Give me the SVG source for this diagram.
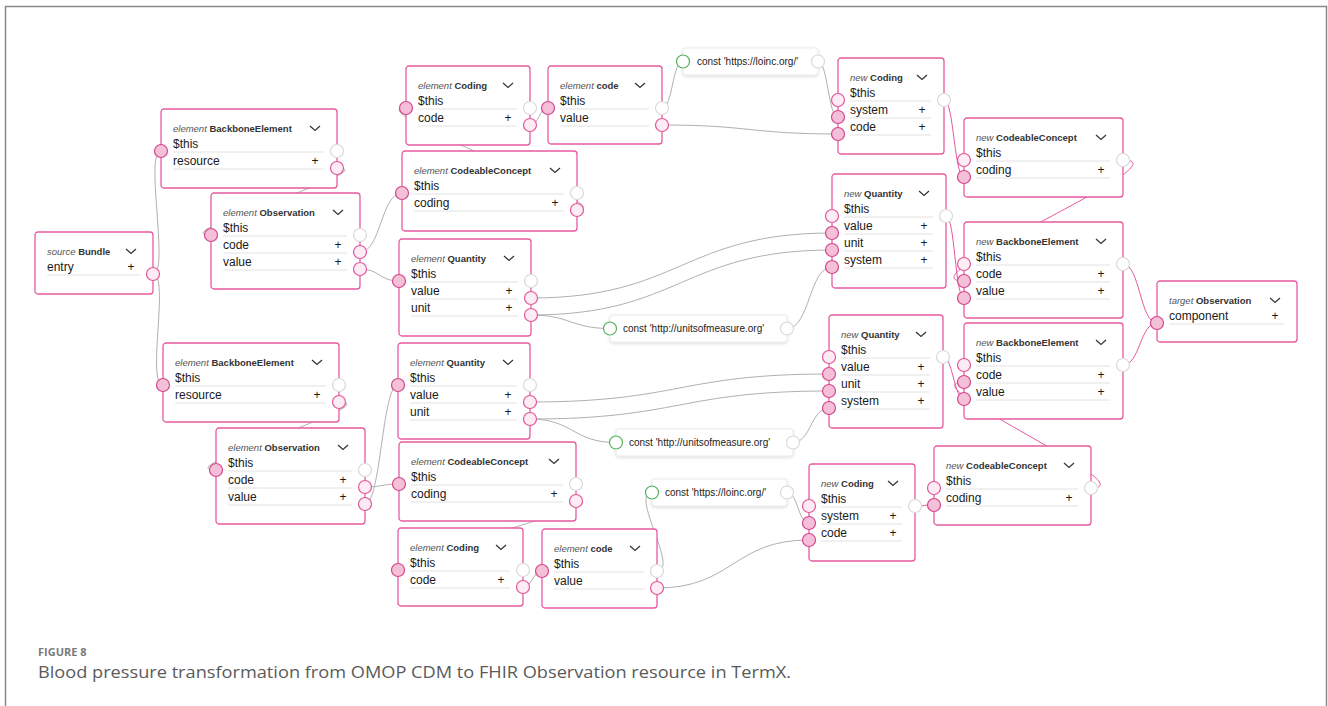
<svg xmlns="http://www.w3.org/2000/svg" width="1328" height="706" viewBox="0 0 1328 706">
  <defs>
    <filter id="sh" x="-10%" y="-40%" width="120%" height="190%">
      <feDropShadow dx="0" dy="1" stdDeviation="1.8" flood-color="#000" flood-opacity="0.16"/>
    </filter>
    <style>
      .box{fill:#fff;stroke:#e75a9f;stroke-width:1.3}
      .cbox{fill:#fff;stroke:#ebebeb;stroke-width:1}
      .hd{font-family:"Liberation Sans",Arial,sans-serif;font-size:9.5px}
      .k{font-style:italic;fill:#555}
      .t{font-weight:bold;fill:#333}
      .row{font-family:"Liberation Sans",Arial,sans-serif;font-size:12px;fill:#1a1a1a}
      .pl{font-family:"Liberation Sans",Arial,sans-serif;font-size:12px;fill:#1a1a1a;text-anchor:middle}
      .ct{font-family:"Liberation Sans",Arial,sans-serif;font-size:10px;fill:#222}
      .sep{stroke:#e2e2e2;stroke-width:1}
      .chev{fill:none;stroke:#333;stroke-width:1.2}
      .pin{fill:#f4c0d7;stroke:#d4468e;stroke-width:1.2}
      .plt{fill:#fdecf3;stroke:#e2579b;stroke-width:1.2}
      .pwh{fill:#fff;stroke:#d9d9d9;stroke-width:1.2}
      .pgr{fill:#fff;stroke:#53b25a;stroke-width:1.2}
      .w{fill:none;stroke:#b0b0b0;stroke-width:1}
      .wp{fill:none;stroke:#e8579d;stroke-width:1}
      .cap1{font-family:"Open Sans","Liberation Sans",sans-serif;font-size:11px;font-weight:bold;fill:#7a7a7a}
      .cap2{font-family:"Open Sans","Liberation Sans",sans-serif;font-size:16px;fill:#5a5a5a}
    </style>
  </defs>

  <rect width="1328" height="706" fill="#fff"/>
  <!-- figure frame, open at the bottom -->
  <path d="M5.5,706 V6.5 H1326.5 V706" fill="none" stroke="#8a8a8a" stroke-width="1.5"/>

  <!-- connectors -->
  <g id="connectors">
    <path class="w" d="M153,274 C170,274 144,151 161,151"/>
    <path class="w" d="M153,274 C170,274 146,385 163,385"/>
    <path class="w" d="M337,168 C390,168 158,235 211,235"/>
    <path class="w" d="M339,402 C392,402 163,470 216,470"/>
    <path class="w" d="M360,252 C381,252 381,193 402,193"/>
    <path class="w" d="M365,487 C382,487 382,484 399,484"/>
    <path class="w" d="M360,269 C380,269 379,281 399,281"/>
    <path class="w" d="M365,504 C381,504 382,385 398,385"/>
    <path class="w" d="M577,210 C630,210 353,108 406,108"/>
    <path class="w" d="M576,501 C629,501 345,570 398,570"/>
    <path class="w" d="M530,125 C539,125 539,108 548,108"/>
    <path class="w" d="M523,587 C532,587 533,571 542,571"/>
    <path class="w" d="M662,125 C750,125 750,134 838,134"/>
    <path class="w" d="M657,588 C733,588 733,540 809,540"/>
    <path class="w" d="M662,108 C673,108 672,61.5 683,61.5"/>
    <path class="w" d="M657,571 C680,571 629,492.5 652,492.5"/>
    <path class="w" d="M818,61.5 C828,61.5 828,117 838,117"/>
    <path class="w" d="M787,492.5 C798,492.5 798,523 809,523"/>
    <path class="w" d="M531,298 C680,298 683,233 832,233"/>
    <path class="w" d="M531,315 C680,315 683,250 832,250"/>
    <path class="w" d="M531,315 C570,315 571,328.5 610,328.5"/>
    <path class="w" d="M787,328.5 C810,328.5 809,267 832,267"/>
    <path class="w" d="M530,402 C680,402 679,374 829,374"/>
    <path class="w" d="M530,419 C680,419 679,391 829,391"/>
    <path class="w" d="M530,419 C573,419 573,442.5 616,442.5"/>
    <path class="w" d="M793,442.5 C811,442.5 811,408 829,408"/>
    <path class="wp" d="M944,100 C954,100 954,177 964,177"/>
    <path class="wp" d="M1123,160 C1190,160 897,281 964,281"/>
    <path class="wp" d="M946,216 C955,216 955,298 964,298"/>
    <path class="wp" d="M1123,264 C1140,264 1140,323 1157,323"/>
    <path class="wp" d="M1123,365 C1140,365 1140,323 1157,323"/>
    <path class="wp" d="M943,357 C953,357 954,399 964,399"/>
    <path class="wp" d="M1091,488 C1150,488 905,382 964,382"/>
    <path class="wp" d="M915,506 C925,506 924,505 934,505"/>
  </g>

  <!-- source side -->
  <g id="src-bundle" transform="translate(35,232)">
    <rect class="box" width="118" height="62" rx="3"/>
    <text class="hd" x="12" y="22.5"><tspan class="k">source</tspan> <tspan class="t">Bundle</tspan></text>
    <polyline class="chev" points="91,17 96,21.5 101,17"/>
    <text class="row" x="12" y="38.5">entry</text><text class="pl" x="96" y="38.5">+</text>
    <line class="sep" x1="12" y1="43" x2="105" y2="43"/>
    <circle class="plt" cx="118" cy="42" r="6.5"/>
  </g>

  <g id="el-bb1" transform="translate(161,109)">
    <rect class="box" width="176" height="79" rx="3"/>
    <text class="hd" x="12" y="22.5"><tspan class="k">element</tspan> <tspan class="t">BackboneElement</tspan></text>
    <polyline class="chev" points="149,17 154,21.5 159,17"/>
    <text class="row" x="12" y="38.5">$this</text>
    <line class="sep" x1="12" y1="43" x2="163" y2="43"/>
    <text class="row" x="12" y="55.5">resource</text><text class="pl" x="154" y="55.5">+</text>
    <line class="sep" x1="12" y1="60" x2="163" y2="60"/>
    <circle class="pin" cx="0" cy="42" r="6.5"/>
    <circle class="pwh" cx="176" cy="42" r="6.5"/>
    <circle class="plt" cx="176" cy="59" r="6.5"/>
  </g>

  <g id="el-obs1" transform="translate(211,193)">
    <rect class="box" width="149" height="96" rx="3"/>
    <text class="hd" x="12" y="22.5"><tspan class="k">element</tspan> <tspan class="t">Observation</tspan></text>
    <polyline class="chev" points="122,17 127,21.5 132,17"/>
    <text class="row" x="12" y="38.5">$this</text>
    <line class="sep" x1="12" y1="43" x2="136" y2="43"/>
    <text class="row" x="12" y="55.5">code</text><text class="pl" x="127" y="55.5">+</text>
    <line class="sep" x1="12" y1="60" x2="136" y2="60"/>
    <text class="row" x="12" y="72.5">value</text><text class="pl" x="127" y="72.5">+</text>
    <line class="sep" x1="12" y1="77" x2="136" y2="77"/>
    <circle class="pin" cx="0" cy="42" r="6.5"/>
    <circle class="pwh" cx="149" cy="42" r="6.5"/>
    <circle class="plt" cx="149" cy="59" r="6.5"/>
    <circle class="plt" cx="149" cy="76" r="6.5"/>
  </g>

  <g id="el-coding1" transform="translate(406,66)">
    <rect class="box" width="124" height="79" rx="3"/>
    <text class="hd" x="12" y="22.5"><tspan class="k">element</tspan> <tspan class="t">Coding</tspan></text>
    <polyline class="chev" points="97,17 102,21.5 107,17"/>
    <text class="row" x="12" y="38.5">$this</text>
    <line class="sep" x1="12" y1="43" x2="111" y2="43"/>
    <text class="row" x="12" y="55.5">code</text><text class="pl" x="102" y="55.5">+</text>
    <line class="sep" x1="12" y1="60" x2="111" y2="60"/>
    <circle class="pin" cx="0" cy="42" r="6.5"/>
    <circle class="pwh" cx="124" cy="42" r="6.5"/>
    <circle class="plt" cx="124" cy="59" r="6.5"/>
  </g>

  <g id="el-code1" transform="translate(548,66)">
    <rect class="box" width="114" height="78" rx="3"/>
    <text class="hd" x="12" y="22.5"><tspan class="k">element</tspan> <tspan class="t">code</tspan></text>
    <polyline class="chev" points="87,17 92,21.5 97,17"/>
    <text class="row" x="12" y="38.5">$this</text>
    <line class="sep" x1="12" y1="43" x2="101" y2="43"/>
    <text class="row" x="12" y="55.5">value</text>
    <line class="sep" x1="12" y1="60" x2="101" y2="60"/>
    <circle class="pin" cx="0" cy="42" r="6.5"/>
    <circle class="pwh" cx="114" cy="42" r="6.5"/>
    <circle class="plt" cx="114" cy="59" r="6.5"/>
  </g>

  <g id="el-cc1" transform="translate(402,151)">
    <rect class="box" width="175" height="80" rx="3"/>
    <text class="hd" x="12" y="22.5"><tspan class="k">element</tspan> <tspan class="t">CodeableConcept</tspan></text>
    <polyline class="chev" points="148,17 153,21.5 158,17"/>
    <text class="row" x="12" y="38.5">$this</text>
    <line class="sep" x1="12" y1="43" x2="162" y2="43"/>
    <text class="row" x="12" y="55.5">coding</text><text class="pl" x="153" y="55.5">+</text>
    <line class="sep" x1="12" y1="60" x2="162" y2="60"/>
    <circle class="pin" cx="0" cy="42" r="6.5"/>
    <circle class="pwh" cx="175" cy="42" r="6.5"/>
    <circle class="plt" cx="175" cy="59" r="6.5"/>
  </g>

  <g id="el-qty1" transform="translate(399,239)">
    <rect class="box" width="132" height="97" rx="3"/>
    <text class="hd" x="12" y="22.5"><tspan class="k">element</tspan> <tspan class="t">Quantity</tspan></text>
    <polyline class="chev" points="105,17 110,21.5 115,17"/>
    <text class="row" x="12" y="38.5">$this</text>
    <line class="sep" x1="12" y1="43" x2="119" y2="43"/>
    <text class="row" x="12" y="55.5">value</text><text class="pl" x="110" y="55.5">+</text>
    <line class="sep" x1="12" y1="60" x2="119" y2="60"/>
    <text class="row" x="12" y="72.5">unit</text><text class="pl" x="110" y="72.5">+</text>
    <line class="sep" x1="12" y1="77" x2="119" y2="77"/>
    <circle class="pin" cx="0" cy="42" r="6.5"/>
    <circle class="pwh" cx="132" cy="42" r="6.5"/>
    <circle class="plt" cx="132" cy="59" r="6.5"/>
    <circle class="plt" cx="132" cy="76" r="6.5"/>
  </g>

  <g id="const-loinc1" transform="translate(683,48)">
    <rect class="cbox" width="135" height="27" rx="3" filter="url(#sh)"/>
    <text class="ct" x="14" y="17">const 'https://loinc.org/'</text>
    <circle class="pgr" cx="0" cy="13.5" r="6.5"/>
    <circle class="pwh" cx="135" cy="13.5" r="6.5"/>
  </g>

  <g id="const-units1" transform="translate(610,315)">
    <rect class="cbox" width="177" height="27" rx="3" filter="url(#sh)"/>
    <text class="ct" x="13" y="17">const 'http://unitsofmeasure.org'</text>
    <circle class="pgr" cx="0" cy="13.5" r="6.5"/>
    <circle class="pwh" cx="177" cy="13.5" r="6.5"/>
  </g>

  <g id="el-bb2" transform="translate(163,343)">
    <rect class="box" width="176" height="79" rx="3"/>
    <text class="hd" x="12" y="22.5"><tspan class="k">element</tspan> <tspan class="t">BackboneElement</tspan></text>
    <polyline class="chev" points="149,17 154,21.5 159,17"/>
    <text class="row" x="12" y="38.5">$this</text>
    <line class="sep" x1="12" y1="43" x2="163" y2="43"/>
    <text class="row" x="12" y="55.5">resource</text><text class="pl" x="154" y="55.5">+</text>
    <line class="sep" x1="12" y1="60" x2="163" y2="60"/>
    <circle class="pin" cx="0" cy="42" r="6.5"/>
    <circle class="pwh" cx="176" cy="42" r="6.5"/>
    <circle class="plt" cx="176" cy="59" r="6.5"/>
  </g>

  <g id="el-obs2" transform="translate(216,428)">
    <rect class="box" width="149" height="96" rx="3"/>
    <text class="hd" x="12" y="22.5"><tspan class="k">element</tspan> <tspan class="t">Observation</tspan></text>
    <polyline class="chev" points="122,17 127,21.5 132,17"/>
    <text class="row" x="12" y="38.5">$this</text>
    <line class="sep" x1="12" y1="43" x2="136" y2="43"/>
    <text class="row" x="12" y="55.5">code</text><text class="pl" x="127" y="55.5">+</text>
    <line class="sep" x1="12" y1="60" x2="136" y2="60"/>
    <text class="row" x="12" y="72.5">value</text><text class="pl" x="127" y="72.5">+</text>
    <line class="sep" x1="12" y1="77" x2="136" y2="77"/>
    <circle class="pin" cx="0" cy="42" r="6.5"/>
    <circle class="pwh" cx="149" cy="42" r="6.5"/>
    <circle class="plt" cx="149" cy="59" r="6.5"/>
    <circle class="plt" cx="149" cy="76" r="6.5"/>
  </g>

  <g id="el-qty2" transform="translate(398,343)">
    <rect class="box" width="132" height="96" rx="3"/>
    <text class="hd" x="12" y="22.5"><tspan class="k">element</tspan> <tspan class="t">Quantity</tspan></text>
    <polyline class="chev" points="105,17 110,21.5 115,17"/>
    <text class="row" x="12" y="38.5">$this</text>
    <line class="sep" x1="12" y1="43" x2="119" y2="43"/>
    <text class="row" x="12" y="55.5">value</text><text class="pl" x="110" y="55.5">+</text>
    <line class="sep" x1="12" y1="60" x2="119" y2="60"/>
    <text class="row" x="12" y="72.5">unit</text><text class="pl" x="110" y="72.5">+</text>
    <line class="sep" x1="12" y1="77" x2="119" y2="77"/>
    <circle class="pin" cx="0" cy="42" r="6.5"/>
    <circle class="pwh" cx="132" cy="42" r="6.5"/>
    <circle class="plt" cx="132" cy="59" r="6.5"/>
    <circle class="plt" cx="132" cy="76" r="6.5"/>
  </g>

  <g id="const-units2" transform="translate(616,429)">
    <rect class="cbox" width="177" height="27" rx="3" filter="url(#sh)"/>
    <text class="ct" x="13" y="17">const 'http://unitsofmeasure.org'</text>
    <circle class="pgr" cx="0" cy="13.5" r="6.5"/>
    <circle class="pwh" cx="177" cy="13.5" r="6.5"/>
  </g>

  <g id="el-cc2" transform="translate(399,442)">
    <rect class="box" width="177" height="79" rx="3"/>
    <text class="hd" x="12" y="22.5"><tspan class="k">element</tspan> <tspan class="t">CodeableConcept</tspan></text>
    <polyline class="chev" points="150,17 155,21.5 160,17"/>
    <text class="row" x="12" y="38.5">$this</text>
    <line class="sep" x1="12" y1="43" x2="164" y2="43"/>
    <text class="row" x="12" y="55.5">coding</text><text class="pl" x="155" y="55.5">+</text>
    <line class="sep" x1="12" y1="60" x2="164" y2="60"/>
    <circle class="pin" cx="0" cy="42" r="6.5"/>
    <circle class="pwh" cx="177" cy="42" r="6.5"/>
    <circle class="plt" cx="177" cy="59" r="6.5"/>
  </g>

  <g id="const-loinc2" transform="translate(652,479)">
    <rect class="cbox" width="135" height="27" rx="3" filter="url(#sh)"/>
    <text class="ct" x="13" y="17">const 'https://loinc.org/'</text>
    <circle class="pgr" cx="0" cy="13.5" r="6.5"/>
    <circle class="pwh" cx="135" cy="13.5" r="6.5"/>
  </g>

  <g id="el-coding2" transform="translate(398,528)">
    <rect class="box" width="125" height="78" rx="3"/>
    <text class="hd" x="12" y="22.5"><tspan class="k">element</tspan> <tspan class="t">Coding</tspan></text>
    <polyline class="chev" points="98,17 103,21.5 108,17"/>
    <text class="row" x="12" y="38.5">$this</text>
    <line class="sep" x1="12" y1="43" x2="112" y2="43"/>
    <text class="row" x="12" y="55.5">code</text><text class="pl" x="103" y="55.5">+</text>
    <line class="sep" x1="12" y1="60" x2="112" y2="60"/>
    <circle class="pin" cx="0" cy="42" r="6.5"/>
    <circle class="pwh" cx="125" cy="42" r="6.5"/>
    <circle class="plt" cx="125" cy="59" r="6.5"/>
  </g>

  <g id="el-code2" transform="translate(542,529)">
    <rect class="box" width="115" height="79" rx="3"/>
    <text class="hd" x="12" y="22.5"><tspan class="k">element</tspan> <tspan class="t">code</tspan></text>
    <polyline class="chev" points="88,17 93,21.5 98,17"/>
    <text class="row" x="12" y="38.5">$this</text>
    <line class="sep" x1="12" y1="43" x2="102" y2="43"/>
    <text class="row" x="12" y="55.5">value</text>
    <line class="sep" x1="12" y1="60" x2="102" y2="60"/>
    <circle class="pin" cx="0" cy="42" r="6.5"/>
    <circle class="pwh" cx="115" cy="42" r="6.5"/>
    <circle class="plt" cx="115" cy="59" r="6.5"/>
  </g>

  <!-- target side -->
  <g id="new-coding1" transform="translate(838,58)">
    <rect class="box" width="106" height="96" rx="3"/>
    <text class="hd" x="12" y="22.5"><tspan class="k">new</tspan> <tspan class="t">Coding</tspan></text>
    <polyline class="chev" points="79,17 84,21.5 89,17"/>
    <text class="row" x="12" y="38.5">$this</text>
    <line class="sep" x1="12" y1="43" x2="93" y2="43"/>
    <text class="row" x="12" y="55.5">system</text><text class="pl" x="84" y="55.5">+</text>
    <line class="sep" x1="12" y1="60" x2="93" y2="60"/>
    <text class="row" x="12" y="72.5">code</text><text class="pl" x="84" y="72.5">+</text>
    <line class="sep" x1="12" y1="77" x2="93" y2="77"/>
    <circle class="plt" cx="0" cy="42" r="6.5"/>
    <circle class="pin" cx="0" cy="59" r="6.5"/>
    <circle class="pin" cx="0" cy="76" r="6.5"/>
    <circle class="pwh" cx="106" cy="42" r="6.5"/>
  </g>

  <g id="new-cc1" transform="translate(964,118)">
    <rect class="box" width="159" height="79" rx="3"/>
    <text class="hd" x="12" y="22.5"><tspan class="k">new</tspan> <tspan class="t">CodeableConcept</tspan></text>
    <polyline class="chev" points="132,17 137,21.5 142,17"/>
    <text class="row" x="12" y="38.5">$this</text>
    <line class="sep" x1="12" y1="43" x2="146" y2="43"/>
    <text class="row" x="12" y="55.5">coding</text><text class="pl" x="137" y="55.5">+</text>
    <line class="sep" x1="12" y1="60" x2="146" y2="60"/>
    <circle class="plt" cx="0" cy="42" r="6.5"/>
    <circle class="pin" cx="0" cy="59" r="6.5"/>
    <circle class="pwh" cx="159" cy="42" r="6.5"/>
  </g>

  <g id="new-qty1" transform="translate(832,174)">
    <rect class="box" width="114" height="114" rx="3"/>
    <text class="hd" x="12" y="22.5"><tspan class="k">new</tspan> <tspan class="t">Quantity</tspan></text>
    <polyline class="chev" points="87,17 92,21.5 97,17"/>
    <text class="row" x="12" y="38.5">$this</text>
    <line class="sep" x1="12" y1="43" x2="101" y2="43"/>
    <text class="row" x="12" y="55.5">value</text><text class="pl" x="92" y="55.5">+</text>
    <line class="sep" x1="12" y1="60" x2="101" y2="60"/>
    <text class="row" x="12" y="72.5">unit</text><text class="pl" x="92" y="72.5">+</text>
    <line class="sep" x1="12" y1="77" x2="101" y2="77"/>
    <text class="row" x="12" y="89.5">system</text><text class="pl" x="92" y="89.5">+</text>
    <line class="sep" x1="12" y1="94" x2="101" y2="94"/>
    <circle class="plt" cx="0" cy="42" r="6.5"/>
    <circle class="pin" cx="0" cy="59" r="6.5"/>
    <circle class="pin" cx="0" cy="76" r="6.5"/>
    <circle class="pin" cx="0" cy="93" r="6.5"/>
    <circle class="pwh" cx="114" cy="42" r="6.5"/>
  </g>

  <g id="new-bb1" transform="translate(964,222)">
    <rect class="box" width="159" height="96" rx="3"/>
    <text class="hd" x="12" y="22.5"><tspan class="k">new</tspan> <tspan class="t">BackboneElement</tspan></text>
    <polyline class="chev" points="132,17 137,21.5 142,17"/>
    <text class="row" x="12" y="38.5">$this</text>
    <line class="sep" x1="12" y1="43" x2="146" y2="43"/>
    <text class="row" x="12" y="55.5">code</text><text class="pl" x="137" y="55.5">+</text>
    <line class="sep" x1="12" y1="60" x2="146" y2="60"/>
    <text class="row" x="12" y="72.5">value</text><text class="pl" x="137" y="72.5">+</text>
    <line class="sep" x1="12" y1="77" x2="146" y2="77"/>
    <circle class="plt" cx="0" cy="42" r="6.5"/>
    <circle class="pin" cx="0" cy="59" r="6.5"/>
    <circle class="pin" cx="0" cy="76" r="6.5"/>
    <circle class="pwh" cx="159" cy="42" r="6.5"/>
  </g>

  <g id="target-obs" transform="translate(1157,281)">
    <rect class="box" width="140" height="61" rx="3"/>
    <text class="hd" x="12" y="22.5"><tspan class="k">target</tspan> <tspan class="t">Observation</tspan></text>
    <polyline class="chev" points="113,17 118,21.5 123,17"/>
    <text class="row" x="12" y="38.5">component</text><text class="pl" x="118" y="38.5">+</text>
    <line class="sep" x1="12" y1="43" x2="127" y2="43"/>
    <circle class="pin" cx="0" cy="42" r="6.5"/>
  </g>

  <g id="new-qty2" transform="translate(829,315)">
    <rect class="box" width="114" height="113" rx="3"/>
    <text class="hd" x="12" y="22.5"><tspan class="k">new</tspan> <tspan class="t">Quantity</tspan></text>
    <polyline class="chev" points="87,17 92,21.5 97,17"/>
    <text class="row" x="12" y="38.5">$this</text>
    <line class="sep" x1="12" y1="43" x2="101" y2="43"/>
    <text class="row" x="12" y="55.5">value</text><text class="pl" x="92" y="55.5">+</text>
    <line class="sep" x1="12" y1="60" x2="101" y2="60"/>
    <text class="row" x="12" y="72.5">unit</text><text class="pl" x="92" y="72.5">+</text>
    <line class="sep" x1="12" y1="77" x2="101" y2="77"/>
    <text class="row" x="12" y="89.5">system</text><text class="pl" x="92" y="89.5">+</text>
    <line class="sep" x1="12" y1="94" x2="101" y2="94"/>
    <circle class="plt" cx="0" cy="42" r="6.5"/>
    <circle class="pin" cx="0" cy="59" r="6.5"/>
    <circle class="pin" cx="0" cy="76" r="6.5"/>
    <circle class="pin" cx="0" cy="93" r="6.5"/>
    <circle class="pwh" cx="114" cy="42" r="6.5"/>
  </g>

  <g id="new-bb2" transform="translate(964,323)">
    <rect class="box" width="159" height="96" rx="3"/>
    <text class="hd" x="12" y="22.5"><tspan class="k">new</tspan> <tspan class="t">BackboneElement</tspan></text>
    <polyline class="chev" points="132,17 137,21.5 142,17"/>
    <text class="row" x="12" y="38.5">$this</text>
    <line class="sep" x1="12" y1="43" x2="146" y2="43"/>
    <text class="row" x="12" y="55.5">code</text><text class="pl" x="137" y="55.5">+</text>
    <line class="sep" x1="12" y1="60" x2="146" y2="60"/>
    <text class="row" x="12" y="72.5">value</text><text class="pl" x="137" y="72.5">+</text>
    <line class="sep" x1="12" y1="77" x2="146" y2="77"/>
    <circle class="plt" cx="0" cy="42" r="6.5"/>
    <circle class="pin" cx="0" cy="59" r="6.5"/>
    <circle class="pin" cx="0" cy="76" r="6.5"/>
    <circle class="pwh" cx="159" cy="42" r="6.5"/>
  </g>

  <g id="new-cc2" transform="translate(934,446)">
    <rect class="box" width="157" height="79" rx="3"/>
    <text class="hd" x="12" y="22.5"><tspan class="k">new</tspan> <tspan class="t">CodeableConcept</tspan></text>
    <polyline class="chev" points="130,17 135,21.5 140,17"/>
    <text class="row" x="12" y="38.5">$this</text>
    <line class="sep" x1="12" y1="43" x2="144" y2="43"/>
    <text class="row" x="12" y="55.5">coding</text><text class="pl" x="135" y="55.5">+</text>
    <line class="sep" x1="12" y1="60" x2="144" y2="60"/>
    <circle class="plt" cx="0" cy="42" r="6.5"/>
    <circle class="pin" cx="0" cy="59" r="6.5"/>
    <circle class="pwh" cx="157" cy="42" r="6.5"/>
  </g>

  <g id="new-coding2" transform="translate(809,464)">
    <rect class="box" width="106" height="97" rx="3"/>
    <text class="hd" x="12" y="22.5"><tspan class="k">new</tspan> <tspan class="t">Coding</tspan></text>
    <polyline class="chev" points="79,17 84,21.5 89,17"/>
    <text class="row" x="12" y="38.5">$this</text>
    <line class="sep" x1="12" y1="43" x2="93" y2="43"/>
    <text class="row" x="12" y="55.5">system</text><text class="pl" x="84" y="55.5">+</text>
    <line class="sep" x1="12" y1="60" x2="93" y2="60"/>
    <text class="row" x="12" y="72.5">code</text><text class="pl" x="84" y="72.5">+</text>
    <line class="sep" x1="12" y1="77" x2="93" y2="77"/>
    <circle class="plt" cx="0" cy="42" r="6.5"/>
    <circle class="pin" cx="0" cy="59" r="6.5"/>
    <circle class="pin" cx="0" cy="76" r="6.5"/>
    <circle class="pwh" cx="106" cy="42" r="6.5"/>
  </g>

  <!-- caption -->
  <text class="cap1" x="38" y="656">FIGURE 8</text>
  <text class="cap2" x="38" y="678" textLength="753" lengthAdjust="spacingAndGlyphs">Blood pressure transformation from OMOP CDM to FHIR Observation resource in TermX.</text>
</svg>
